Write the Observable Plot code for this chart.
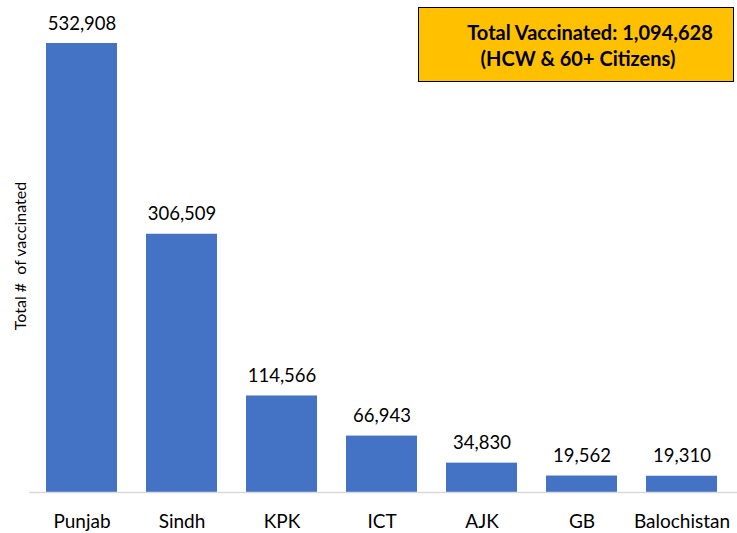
<!DOCTYPE html>
<html><head><meta charset="utf-8">
<script src="https://cdn.jsdelivr.net/npm/d3@7"></script>
<script src="https://cdn.jsdelivr.net/npm/@observablehq/plot@0.6"></script>
<style>
body{margin:0;background:#fff;}
#wrap{position:relative;width:737px;height:533px;font-family:Lato,"Open Sans",sans-serif;}
#box{position:absolute;left:418px;top:7px;width:314px;height:73px;background:#FFC000;border:1.5px solid #000;box-sizing:content-box;font-weight:bold;font-size:20px;color:#000;}
#box .l1{position:absolute;top:12px;left:21px;width:300px;text-align:center;white-space:nowrap;}
#box .l2{position:absolute;top:38px;left:9px;width:300px;text-align:center;white-space:nowrap;}
</style>
</head><body>
<div id="wrap"><div id="chart"></div>
<div id="box"><div class="l1"></div><div class="l2"></div></div></div>
<script>
const provinces = ["Punjab","Sindh","KPK","ICT","AJK","GB","Balochistan"];
const vaccinated = [532908,306509,114566,66943,34830,19562,19310];
const totalLabel = "Total Vaccinated: 1,094,628";
const subLabel = "(HCW & 60+ Citizens)";
const yLabel = "Total #  of vaccinated";

const data = provinces.map((p,i)=>({province:p, value:vaccinated[i]}));
document.querySelector("#box .l1").textContent = totalLabel;
document.querySelector("#box .l2").textContent = subLabel;

const chart = Plot.plot({
  width:737, height:533,
  marginLeft:29, marginRight:3, marginTop:43, marginBottom:41,
  style:{fontFamily:"Lato, 'Open Sans', sans-serif", fontSize:"19px", color:"#000", background:"#fff"},
  x:{domain:provinces, paddingInner:0.29, paddingOuter:0.145, label:null, tickSize:0, tickPadding:22},
  y:{domain:[0,532908], axis:null},
  marks:[
    Plot.barY(data,{x:"province", y:"value", fill:"#4472C4"}),
    Plot.ruleY([0],{stroke:"#d9d9d9", strokeWidth:1.5, insetRight:-3}),
    Plot.text(data,{x:"province", y:"value", text:d=>d3.format(",")(d.value), lineAnchor:"bottom", dy:-14, fontSize:18.5, fill:"#000"}),
    Plot.text([yLabel],{frameAnchor:"left", dx:-9, dy:-12, rotate:-90, textAnchor:"middle", text:d=>d, fontSize:16, fill:"#000"})
  ]
});
document.getElementById("chart").appendChild(chart);
</script>
</body></html>
